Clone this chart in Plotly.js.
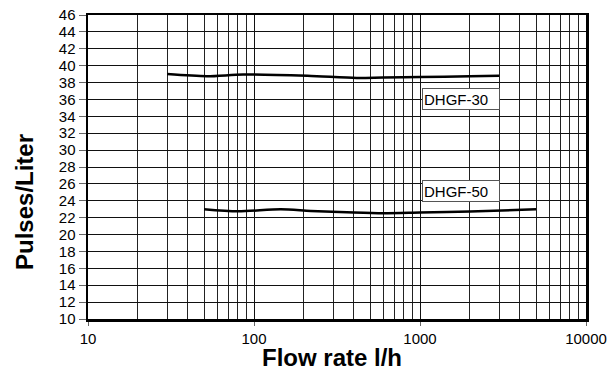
<!DOCTYPE html>
<html>
<head>
<meta charset="utf-8">
<script src="https://cdn.plot.ly/plotly-3.0.1.min.js"></script>
<style>html,body{margin:0;padding:0;background:#fff;}#chart{width:615px;height:371px;}</style>
</head>
<body>
<div id="chart"></div>
<script>
// Data
const flow30 = [30, 52, 86, 210, 415, 600, 1000, 2000, 3000];
const pulses30 = [39.0, 38.75, 38.95, 38.8, 38.55, 38.6, 38.65, 38.75, 38.8];
const flow50 = [50, 80, 145, 220, 400, 600, 1000, 2000, 5000];
const pulses50 = [23.0, 22.75, 23.0, 22.8, 22.6, 22.52, 22.6, 22.72, 23.0];
const seriesNames = ["DHGF-30", "DHGF-50"];
const xTickVals = [10, 100, 1000, 10000];
const xTickText = ["10", "100", "1000", "10000"];
const xMinorVals = [20,30,40,50,60,70,80,90,200,300,400,500,600,700,800,900,2000,3000,4000,5000,6000,7000,8000,9000];
const yTickVals = [10,12,14,16,18,20,22,24,26,28,30,32,34,36,38,40,42,44,46];
const labelX = [3.015, 3.015];
const labelY = [36.0, 25.15];

const font = "Liberation Sans, Arial, sans-serif";
const traces = [
  {x: flow30, y: pulses30, name: seriesNames[0], mode: "lines", line: {color: "#000", width: 2.5, shape: "spline", smoothing: 0.8}, hoverinfo: "skip"},
  {x: flow50, y: pulses50, name: seriesNames[1], mode: "lines", line: {color: "#000", width: 2.5, shape: "spline", smoothing: 0.8}, hoverinfo: "skip"}
];
const layout = {
  width: 615, height: 371,
  margin: {l: 88, r: 29, t: 15, b: 52},
  paper_bgcolor: "#fff", plot_bgcolor: "#fff",
  showlegend: false,
  font: {family: font, size: 15, color: "#000"},
  xaxis: {
    type: "log", range: [1, 4],
    tickmode: "array", tickvals: xTickVals, ticktext: xTickText,
    ticks: "outside", ticklen: 4, tickcolor: "#666", tickwidth: 1,
    showgrid: true, gridcolor: "#111", gridwidth: 1,
    minor: {tickmode: "array", tickvals: xMinorVals, showgrid: true, gridcolor: "#222", gridwidth: 1, ticks: ""},
    showline: true, linecolor: "#000", linewidth: 2.5, mirror: true,
    zeroline: false, tickfont: {family: font, size: 15, color: "#000"}
  },
  yaxis: {
    range: [10, 46], tickmode: "array", tickvals: yTickVals,
    ticks: "outside", ticklen: 7, tickcolor: "#666", tickwidth: 1,
    showgrid: true, gridcolor: "#111", gridwidth: 1,
    showline: true, linecolor: "#000", linewidth: 2.5, mirror: true,
    zeroline: false, tickfont: {family: font, size: 15, color: "#000"}
  },
  annotations: [
    {x: labelX[0], y: labelY[0], xref: "x", yref: "y", xanchor: "left", yanchor: "middle", text: seriesNames[0], showarrow: false, align: "left", width: 74, height: 18, borderpad: 1, bgcolor: "#fff", bordercolor: "#555", borderwidth: 1, font: {family: font, size: 15, color: "#000"}},
    {x: labelX[1], y: labelY[1], xref: "x", yref: "y", xanchor: "left", yanchor: "middle", text: seriesNames[1], showarrow: false, align: "left", width: 74, height: 18, borderpad: 1, bgcolor: "#fff", bordercolor: "#555", borderwidth: 1, font: {family: font, size: 15, color: "#000"}},
    {x: 0.5, y: 0, xref: "paper", yref: "paper", text: "<b>Flow rate l/h</b>", showarrow: false, font: {family: font, size: 24, color: "#000"}, xanchor: "center", yanchor: "middle"},
    {x: 0, y: 0.5, xref: "paper", yref: "paper", text: "<b>Pulses/Liter</b>", showarrow: false, textangle: -90, font: {family: font, size: 24, color: "#000"}, xanchor: "center", yanchor: "middle"}
  ]
};
// Convert pixel positions for the title annotations into paper coordinates
const pw = 615 - 88 - 29, ph = 371 - 15 - 52;
layout.annotations[2].x = (332 - 88) / pw;
layout.annotations[2].y = (371 - 52 - 357) / ph;
layout.annotations[3].x = (25 - 88) / pw;
layout.annotations[3].y = (371 - 52 - 202) / ph;
Plotly.newPlot("chart", traces, layout, {staticPlot: true});
</script>
</body>
</html>
